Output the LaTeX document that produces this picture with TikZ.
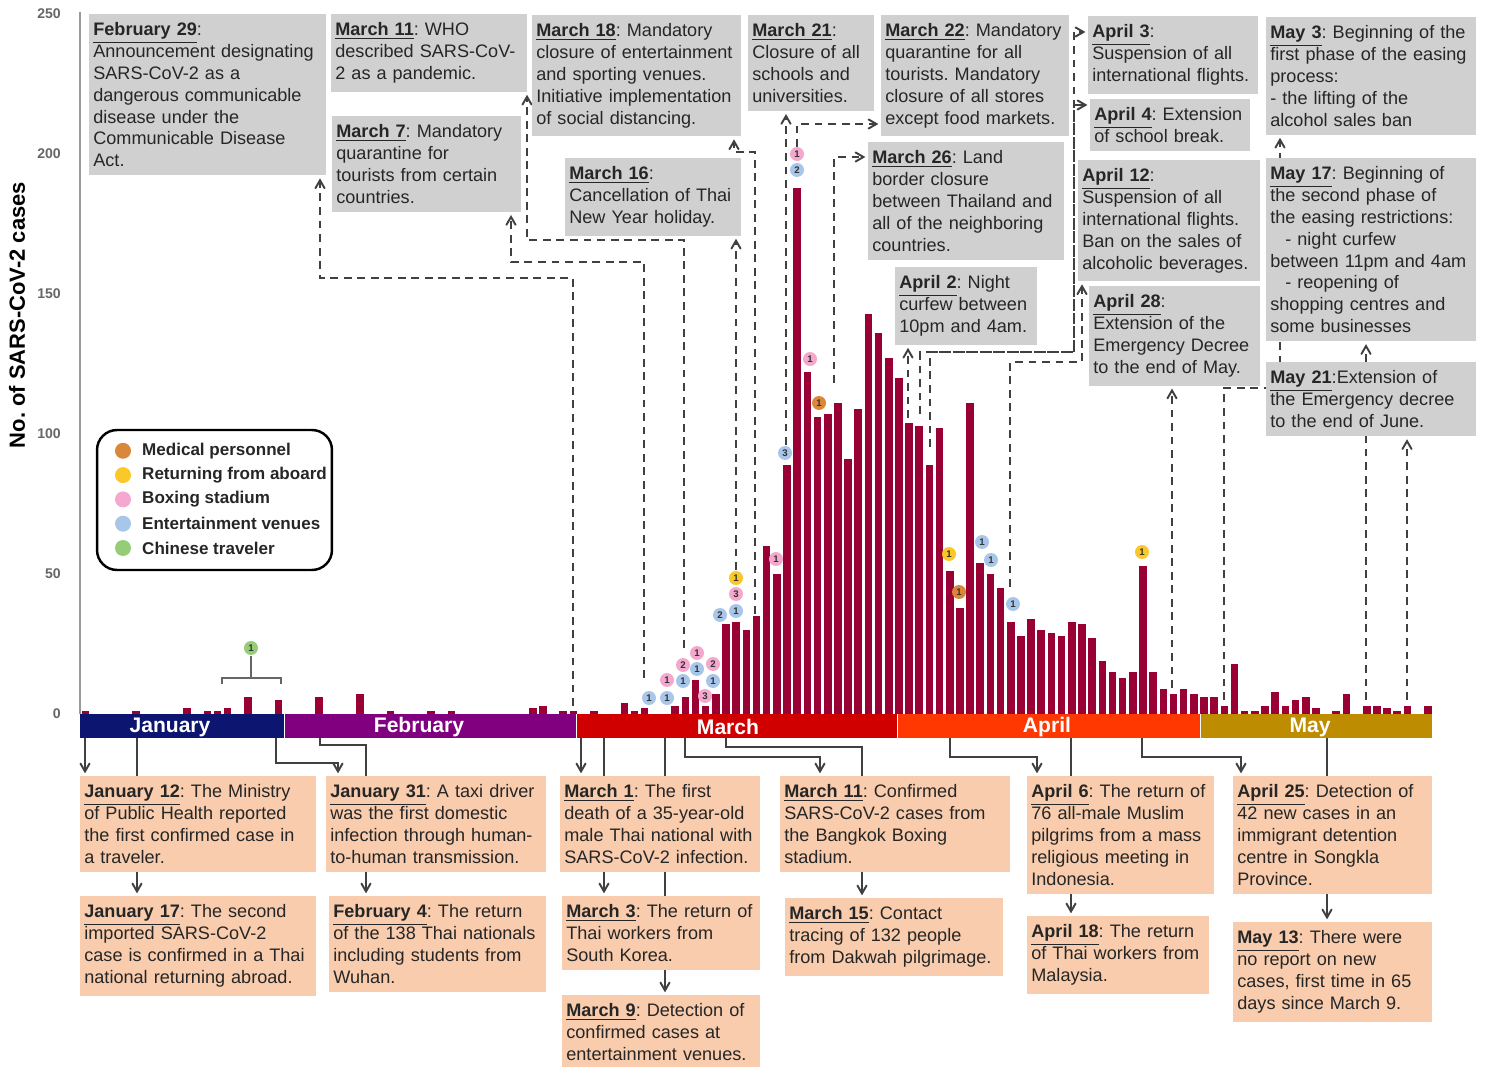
\documentclass[tikz,border=0pt]{standalone}
\usepackage{fontspec}
\setmainfont{Liberation Sans}
\usetikzlibrary{arrows}
\pgfdeclarelayer{back}
\pgfsetlayers{back,main}
\frenchspacing
\hyphenpenalty=10000
\exhyphenpenalty=10000

\definecolor{barred}{RGB}{153,0,51}
\definecolor{jan}{RGB}{12,22,112}
\definecolor{feb}{RGB}{128,0,128}
\definecolor{mar}{RGB}{208,0,0}
\definecolor{apr}{RGB}{255,55,0}
\definecolor{may}{RGB}{190,140,0}
\definecolor{topgray}{RGB}{209,208,209}
\definecolor{peach}{RGB}{248,204,173}
\definecolor{lnk}{RGB}{64,64,64}
\definecolor{med}{RGB}{218,135,60}
\definecolor{ret}{RGB}{250,200,40}
\definecolor{boxing}{RGB}{245,168,205}
\definecolor{ent}{RGB}{168,198,234}
\definecolor{chn}{RGB}{148,204,120}

\newcommand{\evd}[1]{\underline{\textbf{#1}}}

\begin{document}
\begin{tikzpicture}[x=0.02cm,y=-0.02cm,>=angle 60]
	\tikzstyle{ev}=[fill=topgray,text=black!85,anchor=north west,align=left,
		inner xsep=0.08cm,inner ysep=0.17cm,font=\fontsize{10.3}{12.4}\selectfont]
	\tikzstyle{evb}=[ev,fill=peach]
	\tikzstyle{dl}=[->,draw=lnk,line width=1.1pt,dash pattern=on 4.5pt off 3.2pt,shorten >=1.5pt]
	\tikzstyle{sl}=[->,draw=lnk,line width=1.1pt,shorten >=1.5pt]
	\tikzstyle{mk}=[circle,inner sep=0pt,minimum size=0.28cm,text=black!80,
		font=\fontsize{5.5}{6}\selectfont\bfseries]
	\tikzstyle{month}=[text=white,font=\fontsize{12}{14}\selectfont\bfseries]
	\tikzstyle{tick}=[anchor=east,text=black!60,font=\fontsize{8}{9}\selectfont\bfseries]

	\useasboundingbox (0,0) rectangle (1485,1067);

	% axis
	\draw[black!40,line width=1pt] (80,12) -- (80,714);
	\foreach \v in {0,50,...,250}
		\node[tick] (y\v) at (67,{714-2.8*\v}) {\v};
	\node[rotate=90,font=\fontsize{12.5}{14}\selectfont\bfseries] (ylab) at (17,315) {No. of SARS-CoV-2 cases};

	% daily cases, day 0 = January 12
	\foreach \d/\v in {0/1,5/1,10/2,12/1,13/1,14/2,16/6,19/5,
		23/6,27/7,30/1,34/1,36/1,44/2,45/3,47/1,48/1,
		50/1,53/4,54/1,55/2,58/3,59/6,60/12,61/3,62/7,63/32,64/33,65/30,66/35,67/60,68/50,
		69/89,70/188,71/122,72/106,73/107,74/111,75/91,76/109,77/143,78/136,79/127,
		80/120,81/104,82/103,83/89,84/102,85/51,86/38,87/111,88/54,89/50,90/45,91/33,92/28,
		93/34,94/30,95/29,96/28,97/33,98/32,99/27,100/19,101/15,102/13,103/15,104/53,105/15,
		106/9,107/7,108/9,109/7,110/6,111/6,112/3,113/18,114/1,115/1,116/3,117/8,118/3,
		119/5,120/6,121/2,123/1,124/7,126/3,127/3,128/2,129/1,130/3,132/3}
		\fill[barred] ({81.5+\d*10.17},714) rectangle ++(7.6,{-2.8*\v});

	% months
	\fill[jan] (80,714) rectangle (283.5,738);
	\fill[feb] (284.5,714) rectangle (575.5,738);
	\fill[mar] (576.5,714) rectangle (896.5,738);
	\fill[apr] (897.5,714) rectangle (1199.5,738);
	\fill[may] (1200.5,714) rectangle (1432,738);
	\node[month] (Jan) at (170,727) {January};
	\node[month] (Feb) at (419,727) {February};
	\node[month] (Mar) at (728,727) {March};
	\node[month] (Apr) at (1047,727) {April};
	\node[month] (May) at (1310,727) {May};

	% clusters
	\draw[black!60,line width=1pt] (222,684) -- (222,678) -- (281,678) -- (281,684) (251,678) -- (251,656);
	\foreach \x/\y/\c/\n [count=\i] in {251/648/chn/1,
		649/698/ent/1,667/698/ent/1,667/680/boxing/1,683/681/ent/1,683/665/boxing/2,
		697/669/ent/1,697/653/boxing/1,713/664/boxing/2,713/681/ent/1,705/696/boxing/3,
		720/615/ent/2,736/611/ent/1,736/594/boxing/3,736/578/ret/1,776/559/boxing/1,
		785/453/ent/3,797/154/boxing/1,797/170/ent/2,810/359/boxing/1,819/403/med/1,
		949/554/ret/1,959/592/med/1,982/542/ent/1,991/560/ent/1,1013/604/ent/1,1142/552/ret/1}
		\node[mk,fill=\c] (k\i) at (\x,\y) {\n};

	% legend
	\node[draw=black,line width=1.4pt,rounded corners=0.4cm,minimum width=4.7cm,
		minimum height=2.8cm] (L) at (214.5,500) {};
	\foreach \c/\t [count=\i] in {med/Medical personnel,ret/Returning from aboard,
		boxing/Boxing stadium,ent/Entertainment venues,chn/Chinese traveler}{
		\node[circle,fill=\c,minimum size=0.32cm,inner sep=0pt] (lc\i) at (123,{426.5+24.3*\i}) {};
		\node[anchor=west,text=black!85,font=\fontsize{9.7}{11}\selectfont\bfseries] (lt\i) at (136,{426.5+24.3*\i}) {\t};
	}

	% measures
	\node[ev,text width=4.58cm] (F29) at (89,14) {\evd{February 29}:\\Announcement designating\\SARS-CoV-2 as a\\dangerous communicable\\disease under the\\Communicable Disease\\Act.};
	\node[ev,text width=3.76cm] (M11) at (331,14) {\evd{March 11}: WHO\\described SARS-CoV-\\2 as a pandemic.};
	\node[ev,text width=3.62cm] (M7) at (332,116) {\evd{March 7}: Mandatory\\quarantine for\\tourists from certain\\countries.};
	\node[ev,text width=4.02cm] (M18) at (532,15) {\evd{March 18}: Mandatory\\closure of entertainment\\and sporting venues.\\Initiative implementation\\of social distancing.};
	\node[ev,text width=3.36cm] (M16) at (565,158) {\evd{March 16}:\\Cancellation of Thai\\New Year holiday.};
	\node[ev,text width=2.36cm] (M21) at (748,15) {\evd{March 21}:\\Closure of all\\schools and\\universities.};
	\node[ev,text width=3.6cm] (M22) at (881,15) {\evd{March 22}: Mandatory\\quarantine for all\\tourists. Mandatory\\closure of all stores\\except food markets.};
	\node[ev,text width=3.76cm] (M26) at (868,142) {\evd{March 26}: Land\\border closure\\between Thailand and\\all of the neighboring\\countries.};
	\node[ev,text width=2.68cm] (A2) at (895,267) {\evd{April 2}: Night\\curfew between\\10pm and 4am.};
	\node[ev,text width=3.24cm] (A3) at (1088,16) {\evd{April 3}:\\Suspension of all\\international flights.};
	\node[ev,text width=3.04cm] (A4) at (1090,99) {\evd{April 4}: Extension\\of school break.};
	\node[ev,text width=3.48cm] (A12) at (1078,160) {\evd{April 12}:\\Suspension of all\\international flights.\\Ban on the sales of\\alcoholic beverages.};
	\node[ev,text width=3.26cm] (A28) at (1089,286) {\evd{April 28}:\\Extension of the\\Emergency Decree\\to the end of May.};
	\node[ev,text width=4.04cm] (Y3) at (1266,17) {\evd{May 3}: Beginning of the\\first phase of the easing\\process:\\- the lifting of the\\alcohol sales ban};
	\node[ev,text width=4.04cm] (Y17) at (1266,158) {\evd{May 17}: Beginning of\\the second phase of\\the easing restrictions:\\\hspace*{0.3cm}- night curfew\\between 11pm and 4am\\\hspace*{0.3cm}- reopening of\\shopping centres and\\some businesses};
	\node[ev,text width=4.04cm] (Y21) at (1266,362) {\evd{May 21}:Extension of\\the Emergency decree\\to the end of June.};

	% events
	\node[evb,text width=4.56cm] (J12) at (80,776) {\evd{January 12}: The Ministry\\of Public Health reported\\the first confirmed case in\\a traveler.};
	\node[evb,text width=4.56cm] (J17) at (80,896) {\evd{January 17}: The second\\imported SARS-CoV-2\\case is confirmed in a Thai\\national returning abroad.};
	\node[evb,text width=4.24cm] (J31) at (326,776) {\evd{January 31}: A taxi driver\\was the first domestic\\infection through human-\\to-human transmission.};
	\node[evb,text width=4.18cm] (F4) at (329,896) {\evd{February 4}: The return\\of the 138 Thai nationals\\including students from\\Wuhan.};
	\node[evb,text width=3.84cm] (M1) at (560,776) {\evd{March 1}: The first\\death of a 35-year-old\\male Thai national with\\SARS-CoV-2 infection.};
	\node[evb,text width=3.8cm] (M3) at (562,896) {\evd{March 3}: The return of\\Thai workers from\\South Korea.};
	\node[evb,text width=3.8cm] (M9) at (562,995) {\evd{March 9}: Detection of\\confirmed cases at\\entertainment venues.};
	\node[evb,text width=4.44cm] (M11b) at (780,776) {\evd{March 11}: Confirmed\\SARS-CoV-2 cases from\\the Bangkok Boxing\\stadium.};
	\node[evb,text width=4.2cm] (M15) at (785,898) {\evd{March 15}: Contact\\tracing of 132 people\\from Dakwah pilgrimage.};
	\node[evb,text width=3.58cm] (A6) at (1027,776) {\evd{April 6}: The return of\\76 all-male Muslim\\pilgrims from a mass\\religious meeting in\\Indonesia.};
	\node[evb,text width=3.48cm] (A18) at (1027,916) {\evd{April 18}: The return\\of Thai workers from\\Malaysia.};
	\node[evb,text width=3.82cm] (A25) at (1233,776) {\evd{April 25}: Detection of\\42 new cases in an\\immigrant detention\\centre in Songkla\\Province.};
	\node[evb,text width=3.82cm] (Y13) at (1233,922) {\evd{May 13}: There were\\no report on new\\cases, first time in 65\\days since March 9.};

	\begin{pgfonlayer}{back}
	\foreach \n/\x/\y in {F29/573/706,M7/644/678,M11/684/648,M16/736/570,M18/755/614,
		M21/786/445,M22/797/147,M26/834/383,A2/908/418,A3/920/414,A4/930/447,
		A12/1010/587,A28/1172/688,Y3/1224/700,Y17/1366/700,Y21/1407/700}
		\coordinate (t\n) at (\x,\y);
	\foreach \n/\x in {J12/85,J17/137,J31/276,F4/320,M1/581,M3/604,M9/665,M11b/685,
		M15/726,A6/950,A18/1071,A25/1142,Y13/1327}
		\coordinate (s\n) at (\x,738);

	\draw[dl] (tF29) |- (320,278) -- (320,0 |- F29.south);
	\draw[dl] (tM7) |- (511,262) -- (511,0 |- M7.south);
	\draw[dl] (tM11) |- (527,240) -- (527,0 |- M11.south);
	\draw[dl] (tM16) -- (tM16 |- M16.south);
	\draw[dl] (tM18) |- (734,152) -- (734,0 |- M18.south);
	\draw[dl] (tM21) -- (tM21 |- M21.south);
	\draw[dl] (tM22) |- (M22.west |- 0,124);
	\draw[dl] (tM26) |- (M26.west |- 0,157);
	\draw[dl] (tA2) -- (tA2 |- A2.south);
	\draw[dl] (tA3) |- (1074,352) |- (A3.west |- 0,32);
	\draw[dl] (tA4) |- (1074,352) |- (A4.west |- 0,105);
	\draw[dl] (tA12) |- (1082,362) -- (1082,0 |- A12.south);
	\draw[dl] (tA28) -- (tA28 |- A28.south);
	\draw[dl] (tY3) |- (1280,388) -- (1280,0 |- Y3.south);
	\draw[dl] (tY17) -- (tY17 |- Y17.south);
	\draw[dl] (tY21) -- (tY21 |- Y21.south);

	\draw[sl] (sJ12) -- (sJ12 |- J12.north);
	\draw[sl] (sJ17) -- (sJ17 |- J17.north);
	\draw[sl] (sJ31) -- ++(0,25) -| (338,0 |- J31.north);
	\draw[sl] (sF4) -- ++(0,7) -| (366,0 |- F4.north);
	\draw[sl] (sM1) -- (sM1 |- M1.north);
	\draw[sl] (sM3) -- (sM3 |- M3.north);
	\draw[sl] (sM9) -- (sM9 |- M9.north);
	\draw[sl] (sM11b) -- ++(0,19) -| (820,0 |- M11b.north);
	\draw[sl] (sM15) -- ++(0,9) -| (862,0 |- M15.north);
	\draw[sl] (sA6) -- ++(0,19) -| (1037,0 |- A6.north);
	\draw[sl] (sA18) -- (sA18 |- A18.north);
	\draw[sl] (sA25) -- ++(0,19) -| (1241,0 |- A25.north);
	\draw[sl] (sY13) -- (sY13 |- Y13.north);
	\end{pgfonlayer}
\end{tikzpicture}
\end{document}
